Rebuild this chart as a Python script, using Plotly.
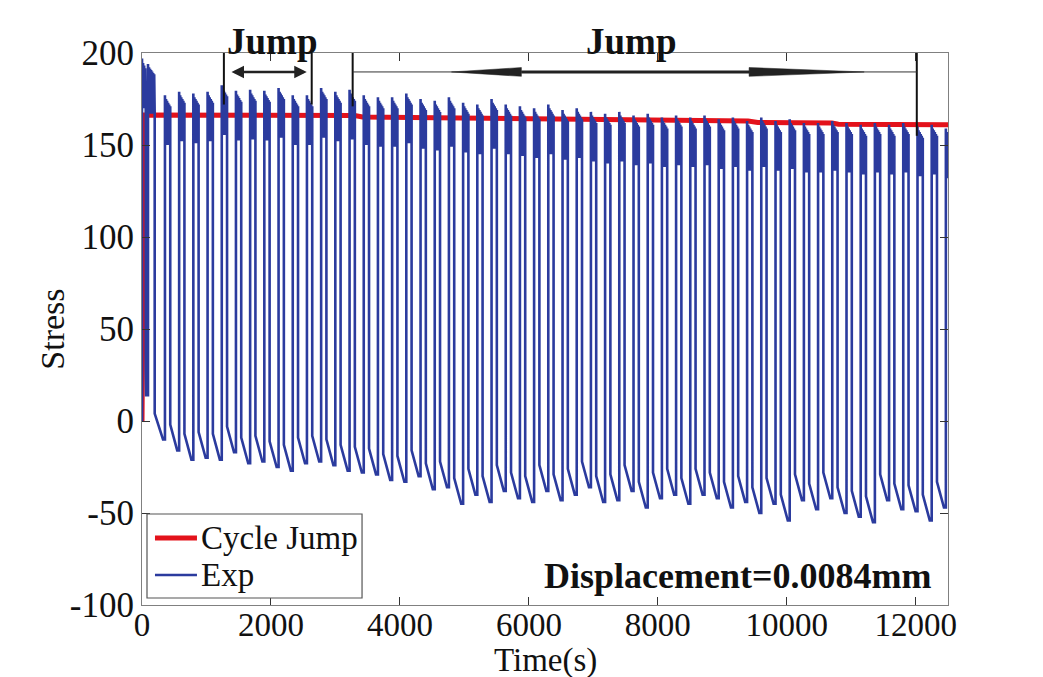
import plotly.graph_objects as go

# ---------------- data ----------------
# Exp: start time (s) of each loading spike
rise_t = [0, 93, 356, 576, 796, 1017, 1237, 1457, 1677, 1897, 2118, 2338,
          2558, 2778, 2998, 3219, 3439, 3659, 3879, 4099, 4320, 4540, 4760,
          4980, 5200, 5421, 5641, 5861, 6081, 6301, 6522, 6742, 6962, 7182,
          7402, 7623, 7843, 8063, 8283, 8503, 8724, 8944, 9164, 9384, 9604,
          9825, 10045, 10265, 10485, 10705, 10926, 11146, 11366, 11586,
          11806, 12027, 12247, 12467]
# duration of the hold at peak (s)
hold_s = [58, 104] + [82] * 56
# peak stress of each spike
peak = [197, 194,
        177, 179, 178, 179, 182.5, 179.5, 180, 179.5, 181, 177, 177, 181,
        179, 180, 177, 176, 176, 178, 175, 174, 176, 173, 172, 175, 172,
        171, 170, 172, 169, 170, 168, 167, 168, 166, 167, 165, 166, 165,
        166, 164, 165, 163, 165, 163, 164, 162, 162, 163, 162, 161, 162,
        161, 162, 160, 161, 159]
# trough stress after each spike
trough = [14, -10,
          -16, -21, -20, -21, -17, -23, -22, -25, -27, -23, -22, -24, -27,
          -28, -29, -32, -33, -30, -37, -36, -45, -40, -44, -38, -42, -44,
          -38, -43, -40, -36, -44, -43, -38, -47, -42, -40, -45, -40, -42,
          -47, -44, -50, -45, -54, -43, -48, -42, -50, -52, -55, -43, -48,
          -49, -54, -47, -45]

# Cycle Jump (simulation) curve
cj_t = [0, 12, 35, 3300, 3420, 9400, 9550, 10700, 10800, 12500]
cj_s = [0, 90, 166.3, 166.0, 165.2, 163.0, 162.2, 161.9, 161.3, 161.0]

# axis ticks
x_ticks = [0, 2000, 4000, 6000, 8000, 10000, 12000]
x_text = ["0", "2000", "4000", "6000", "8000", "10000", "12000"]
y_ticks = [-100, -50, 0, 50, 100, 150, 200]
y_text = ["-100", "-50", "0", "50", "100", "150", "200"]

# legend entries
legend_names = ["Cycle Jump", "Exp"]

# jump markers (time positions)
jump1 = (1270, 2632)
jump2 = (3267, 12016)

# ---------------- build Exp polyline ----------------
xs, ys = [0.0], [0.0]
n = len(rise_t)
for i in range(n):
    s, P, h, L = rise_t[i], peak[i], hold_s[i], trough[i]
    nxt = rise_t[i + 1] if i + 1 < n else 12700
    xs.append(s); ys.append(P)
    k = max(4, int(h / 8))
    for j in range(1, k + 1):
        xs.append(s + h * j / k)
        frac = j / k
        ys.append(P - 27 if j % 2 else P - 1 - 5 * frac)
    xs.append(s + h); ys.append(P - 27)
    xs.append(s + h); ys.append(L + 14)
    xs.append(max(s + h, nxt - 30)); ys.append(L)
    xs.append(nxt); ys.append(L)

FONT = "Liberation Serif"
BLUE = "#2b3b9e"
RED = "#e3121b"

fig = go.Figure()
fig.add_trace(go.Scatter(x=cj_t, y=cj_s, mode="lines", name=legend_names[0],
                         line=dict(color=RED, width=5), showlegend=False))
fig.add_trace(go.Scatter(x=xs, y=ys, mode="lines", name=legend_names[1],
                         line=dict(color=BLUE, width=2.6), showlegend=False))

shapes = []
for t, y1 in [(jump1[0], 172), (jump1[1], 172), (jump2[0], 171), (jump2[1], 155)]:
    shapes.append(dict(type="line", xref="x", yref="y", x0=t, x1=t, y0=200, y1=y1,
                       line=dict(color="#111", width=2)))
ya = 189.7
shapes.append(dict(type="line", xref="x", yref="y", x0=jump2[0], x1=jump2[1], y0=ya, y1=ya,
                   line=dict(color="#333", width=1)))
shapes.append(dict(type="line", xref="x", yref="y", x0=5884, x1=9415, y0=ya, y1=ya,
                   line=dict(color="#222", width=3)))
shapes.append(dict(type="path", xref="x", yref="y",
                   path=f"M 4800,{ya} L 5884,{ya+2.4} L 5884,{ya-2.4} Z",
                   fillcolor="#222", line=dict(color="#222", width=0.5)))
shapes.append(dict(type="path", xref="x", yref="y",
                   path=f"M 11200,{ya} L 9415,{ya+2.4} L 9415,{ya-2.4} Z",
                   fillcolor="#222", line=dict(color="#222", width=0.5)))

# legend box (drawn as in the original figure)
shapes.append(dict(type="rect", xref="paper", yref="paper", x0=0.0062, x1=0.273,
                   y0=0.0127, y1=0.1649, fillcolor="white",
                   line=dict(color="#555", width=1.2)))
shapes.append(dict(type="line", xref="paper", yref="paper", x0=0.0161, x1=0.0682,
                   y0=0.1214, y1=0.1214, line=dict(color=RED, width=5)))
shapes.append(dict(type="line", xref="paper", yref="paper", x0=0.0161, x1=0.0682,
                   y0=0.0543, y1=0.0543, line=dict(color=BLUE, width=2.4)))

annotations = [
    dict(x=2555, y=ya, ax=1365, ay=ya, xref="x", yref="y", axref="x", ayref="y",
         text="", showarrow=True, arrowhead=2, startarrowhead=2, arrowside="end+start",
         arrowsize=1, startarrowsize=1, arrowwidth=2.5, arrowcolor="#222"),
    dict(x=2013, y=1.02, xref="x", yref="paper", text="<b>Jump</b>", showarrow=False,
         yanchor="middle", font=dict(family=FONT, size=37, color="#111")),
    dict(x=7588, y=1.02, xref="x", yref="paper", text="<b>Jump</b>", showarrow=False,
         yanchor="middle", font=dict(family=FONT, size=37, color="#111")),
    dict(x=0.982, y=0.0525, xref="paper", yref="paper", xanchor="right", yanchor="middle",
         text="<b>Displacement=0.0084mm</b>", showarrow=False,
         font=dict(family=FONT, size=36, color="#111")),
    # legend labels
    dict(x=0.071, y=0.1214, xref="paper", yref="paper", xanchor="left", yanchor="middle",
         text=legend_names[0], showarrow=False, font=dict(family=FONT, size=33, color="#111")),
    dict(x=0.071, y=0.0543, xref="paper", yref="paper", xanchor="left", yanchor="middle",
         text=legend_names[1], showarrow=False, font=dict(family=FONT, size=33, color="#111")),
    # axis titles
    dict(x=0.5, y=-0.101, xref="paper", yref="paper", xanchor="center", yanchor="middle",
         text="Time(s)", showarrow=False, font=dict(family=FONT, size=33, color="#111")),
    dict(x=-0.112, y=0.5, xref="paper", yref="paper", xanchor="center", yanchor="middle",
         text="Stress", textangle=-90, showarrow=False,
         font=dict(family=FONT, size=34, color="#111")),
]

axis_common = dict(showline=True, linecolor="#808080", linewidth=1.2, mirror="ticks",
                   ticks="inside", ticklen=8, tickcolor="#333", tickwidth=1,
                   showgrid=False, zeroline=False, automargin=False)

fig.update_layout(
    width=1043, height=677,
    margin=dict(l=142, r=95, t=53, b=72),
    paper_bgcolor="white", plot_bgcolor="white",
    showlegend=False,
    xaxis=dict(range=[0, 12500], tickvals=x_ticks, ticktext=x_text,
               ticklabelstandoff=-10, tickfont=dict(family=FONT, size=33, color="#111"),
               **axis_common),
    yaxis=dict(range=[-100, 200], tickvals=y_ticks, ticktext=y_text,
               tickfont=dict(family=FONT, size=35, color="#111"), **axis_common),
    shapes=shapes,
    annotations=annotations,
)

fig.write_html("out.html")
